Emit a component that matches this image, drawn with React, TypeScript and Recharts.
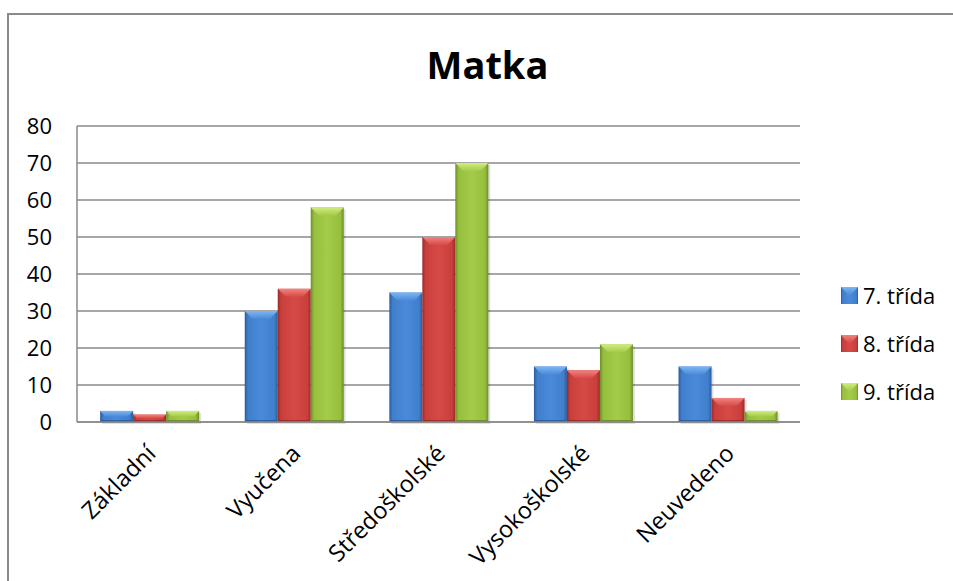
import React from "react";
import { BarChart, Bar, XAxis, YAxis, CartesianGrid } from "recharts";

const categories = ["Základní", "Vyučena", "Středoškolské", "Vysokoškolské", "Neuvedeno"];
const trida7 = [3, 30, 35, 15, 15];
const trida8 = [2, 36, 50, 14, 6.5];
const trida9 = [3, 58, 70, 21, 3];
const yTicks = [0, 10, 20, 30, 40, 50, 60, 70, 80];
const seriesNames = ["7. třída", "8. třída", "9. třída"];
const title = "Matka";

const data = categories.map((c, i) => ({
  name: c,
  s7: trida7[i],
  s8: trida8[i],
  s9: trida9[i],
}));

const FONT = "'Open Sans', 'Noto Sans', sans-serif";

type Pal = { edge: string; mid: string; light: string; bevel: string; dark: string };
const palettes: Record<string, Pal> = {
  blue: { edge: "#2a5c9c", mid: "#3f7fcc", light: "#4a8ad8", bevel: "#7fb6f2", dark: "#1f4a80" },
  red: { edge: "#9a2a27", mid: "#c93f3c", light: "#d64a46", bevel: "#f08480", dark: "#7e1f1d" },
  green: { edge: "#6c8c28", mid: "#96bf3e", light: "#a4cb4a", bevel: "#d2ec80", dark: "#56701f" },
};

const Defs = ({ k }: { k: string }) => {
  const p = palettes[k];
  return (
    <defs>
      <linearGradient id={`body-${k}`} x1="0" y1="0" x2="1" y2="0">
        <stop offset="0" stopColor={p.edge} />
        <stop offset="0.1" stopColor={p.mid} />
        <stop offset="0.5" stopColor={p.light} />
        <stop offset="0.9" stopColor={p.mid} />
        <stop offset="1" stopColor={p.edge} />
      </linearGradient>
      <linearGradient id={`bevel-${k}`} x1="0" y1="0" x2="0" y2="1">
        <stop offset="0" stopColor={p.bevel} />
        <stop offset="1" stopColor={p.light} />
      </linearGradient>
    </defs>
  );
};

const makeShape = (k: string) => (props: any) => {
  const { x, y, width, height } = props;
  if (!width || height == null || height <= 0) return null;
  const p = palettes[k];
  const b = Math.min(8, height / 2, width / 4);
  const e = Math.min(2, b);
  return (
    <g>
      <Defs k={k} />
      <rect x={x + 2} y={y + 2} width={width} height={height} fill="rgba(0,0,0,0.12)" />
      <rect x={x} y={y} width={width} height={height} fill={`url(#body-${k})`} />
      <polygon
        points={`${x},${y} ${x + width},${y} ${x + width - b},${y + b} ${x + b},${y + b}`}
        fill={`url(#bevel-${k})`}
      />
      <polygon
        points={`${x},${y + height} ${x + width},${y + height} ${x + width - e},${y + height - e} ${x + e},${y + height - e}`}
        fill={p.dark}
        opacity={0.6}
      />
    </g>
  );
};

const XTick = (props: any) => {
  const { x, payload } = props;
  return (
    <g transform={`translate(${x + 8},${455}) rotate(-45)`}>
      <text x={0} y={0} textAnchor="end" fontFamily={FONT} fontSize={23.5} fill="#000">
        {payload.value}
      </text>
    </g>
  );
};

const legendKeys = ["blue", "red", "green"];

export default function App() {
  return (
    <div style={{ position: "absolute", left: 0, top: 0, width: 953, height: 581, overflow: "hidden", background: "#fff" }}>
      <div
        style={{
          position: "absolute",
          left: 7,
          top: 13,
          width: 1000,
          height: 1000,
          border: "2px solid #8a8a8a",
          boxSizing: "border-box",
        }}
      />
      <div
        style={{
          position: "absolute",
          left: 0,
          width: 975,
          top: 36,
          textAlign: "center",
          fontFamily: FONT,
          fontWeight: 700,
          fontSize: 38,
          lineHeight: "56px",
          color: "#000",
        }}
      >
        {title}
      </div>
      <div style={{ position: "absolute", left: 0, top: 0 }}>
        <BarChart
          width={953}
          height={581}
          data={data}
          margin={{ top: 126, right: 153, bottom: 129, left: 17 }}
          barCategoryGap="16%"
          barGap={0}
        >
          <CartesianGrid vertical={false} stroke="#8a8a8a" strokeWidth={1.5} />
          <XAxis
            dataKey="name"
            height={30}
            tickLine={false}
            stroke="#8a8a8a"
            strokeWidth={1.5}
            tick={<XTick />}
            interval={0}
          />
          <YAxis
            width={60}
            domain={[0, 80]}
            ticks={yTicks}
            tickLine={false}
            tickSize={0}
            tickMargin={25}
            stroke="#8a8a8a"
            strokeWidth={1.5}
            tick={{ fontFamily: FONT, fontSize: 22, fill: "#000" }}
          />
          <Bar dataKey="s7" name={seriesNames[0]} fill="#3f7fcc" shape={makeShape("blue")} isAnimationActive={false} />
          <Bar dataKey="s8" name={seriesNames[1]} fill="#cc3f3c" shape={makeShape("red")} isAnimationActive={false} />
          <Bar dataKey="s9" name={seriesNames[2]} fill="#9cc443" shape={makeShape("green")} isAnimationActive={false} />
        </BarChart>
      </div>
      <div style={{ position: "absolute", left: 841, top: 271, fontFamily: FONT, fontSize: 22, color: "#000" }}>
        {seriesNames.map((n, i) => (
          <div key={n} style={{ display: "flex", alignItems: "center", height: 48 }}>
            <svg width={17} height={17} style={{ marginRight: 5 }}>
              <Defs k={legendKeys[i]} />
              <rect x={0} y={0} width={17} height={17} fill={`url(#body-${legendKeys[i]})`} />
              <polygon points="0,0 17,0 10,8 7,8" fill={`url(#bevel-${legendKeys[i]})`} />
            </svg>
            <span>{n}</span>
          </div>
        ))}
      </div>
    </div>
  );
}
